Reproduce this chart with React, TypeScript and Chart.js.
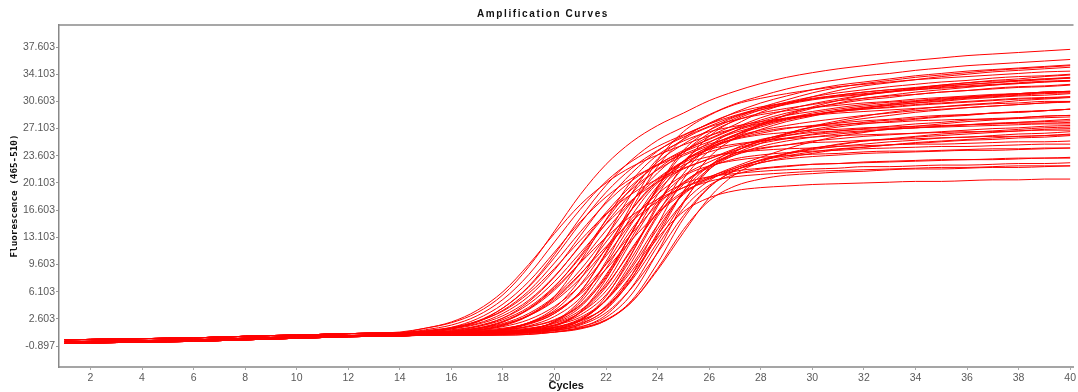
import React, { useEffect, useRef } from "react";
import { Chart, registerables } from "chart.js";

Chart.register(...registerables);

const TITLE = "Amplification Curves";
const X_TITLE = "Cycles";
const Y_TITLE = "Fluorescence (465-510)";

const CYCLES = [1, 2, 3, 4, 5, 6, 7, 8, 9, 10, 11, 12, 13, 14, 15, 16, 17, 18, 19, 20, 21, 22, 23, 24, 25, 26, 27, 28, 29, 30, 31, 32, 33, 34, 35, 36, 37, 38, 39, 40];
const X_TICKS = [2, 4, 6, 8, 10, 12, 14, 16, 18, 20, 22, 24, 26, 28, 30, 32, 34, 36, 38, 40];
const Y_TICKS = [-0.897, 2.603, 6.103, 9.603, 13.103, 16.603, 20.103, 23.603, 27.103, 30.603, 34.103, 37.603];

const W01 = [-0.1,-0.05,0,0.05,0.1,0.15,0.25,0.35,0.45,0.5,0.6,0.7,0.75,0.9,1.4,2.1,3.4,5.7,9.3,13.9,18.6,22.5,25.4,27.5,29.1,30.7,31.9,32.9,33.7,34.3,34.8,35.2,35.6,35.9,36.2,36.5,36.7,36.9,37.1,37.3];
const W02 = [-0.35,-0.3,-0.25,-0.2,-0.15,-0.1,0,0.1,0.2,0.3,0.4,0.45,0.5,0.7,1.2,1.8,3.0,5.1,8.3,12.5,16.7,20.3,22.9,24.8,26.3,27.7,28.8,29.7,30.4,31.0,31.4,31.8,32.1,32.4,32.7,33.0,33.2,33.3,33.5,33.7];
const W03 = [-0.55,-0.5,-0.45,-0.4,-0.35,-0.3,-0.2,-0.1,0,0.1,0.2,0.3,0.35,0.4,0.8,1.3,2.2,4.0,6.8,10.9,15.6,19.8,23.1,25.6,27.3,28.9,30.3,31.3,32.2,32.9,33.4,33.9,34.2,34.6,34.9,35.2,35.4,35.6,35.8,36.0];
const W04 = [-0.35,-0.3,-0.25,-0.2,-0.15,-0.1,0,0.1,0.2,0.3,0.4,0.45,0.5,0.6,1.0,1.4,2.2,3.7,6.2,9.8,13.8,17.5,20.4,22.5,24.1,25.4,26.6,27.5,28.3,28.9,29.4,29.7,30.1,30.4,30.6,30.9,31.1,31.3,31.4,31.6];
const W05 = [-0.1,-0.05,0,0.05,0.1,0.15,0.25,0.35,0.45,0.5,0.6,0.7,0.75,0.8,1.0,1.4,2.0,3.3,5.5,8.9,13.3,17.7,21.4,24.2,26.2,27.7,29.2,30.4,31.3,32.1,32.7,33.1,33.5,33.9,34.2,34.5,34.7,34.9,35.1,35.3];
const W06 = [-0.55,-0.5,-0.45,-0.4,-0.35,-0.3,-0.2,-0.1,0,0.1,0.2,0.3,0.35,0.4,0.6,1.0,1.6,2.7,4.8,8.0,12.1,16.3,19.8,22.4,24.3,25.7,27.1,28.2,29.1,29.8,30.3,30.8,31.1,31.5,31.8,32.0,32.3,32.5,32.6,32.8];
const W07 = [-0.35,-0.3,-0.25,-0.2,-0.15,-0.1,0,0.1,0.2,0.3,0.4,0.45,0.5,0.6,0.8,1.1,1.7,2.7,4.5,7.4,11.1,14.8,17.9,20.2,21.9,23.2,24.5,25.4,26.2,26.8,27.3,27.7,28.0,28.3,28.6,28.8,29.1,29.2,29.4,29.6];
const W08 = [-0.1,-0.05,0,0.05,0.1,0.15,0.25,0.35,0.45,0.5,0.6,0.7,0.75,0.8,0.9,1.2,1.6,2.5,4.1,6.8,10.5,14.9,18.8,21.9,24.1,25.8,27.2,28.5,29.5,30.3,30.9,31.4,31.8,32.2,32.5,32.8,33.0,33.3,33.5,33.6];
const W09 = [-0.35,-0.3,-0.25,-0.2,-0.15,-0.1,0,0.1,0.2,0.3,0.4,0.45,0.5,0.55,0.7,1.0,1.4,2.2,3.8,6.3,9.9,14.0,17.8,20.7,22.9,24.5,25.8,27.0,28.0,28.7,29.4,29.8,30.2,30.6,30.9,31.1,31.4,31.6,31.8,31.9];
const W10 = [-0.55,-0.5,-0.45,-0.4,-0.35,-0.3,-0.2,-0.1,0,0.1,0.2,0.3,0.35,0.4,0.5,0.7,1.1,1.8,3.1,5.3,8.4,11.9,15.2,17.7,19.5,20.9,22.0,23.1,23.9,24.5,25.1,25.5,25.8,26.1,26.4,26.6,26.8,27.0,27.2,27.3];
const W11 = [-0.35,-0.3,-0.25,-0.2,-0.15,-0.1,0,0.1,0.2,0.3,0.4,0.45,0.5,0.55,0.7,0.8,1.2,1.8,3.0,5.1,8.3,12.5,16.7,20.3,22.9,24.8,26.3,27.7,28.8,29.7,30.4,31.0,31.4,31.8,32.1,32.4,32.7,33.0,33.2,33.3];
const W12 = [-0.1,-0.05,0,0.05,0.1,0.15,0.25,0.35,0.45,0.5,0.6,0.7,0.75,0.8,0.9,1.0,1.3,1.9,3.0,4.9,7.8,11.6,15.5,18.7,21.1,22.8,24.2,25.5,26.5,27.3,27.9,28.4,28.8,29.2,29.5,29.8,30.0,30.2,30.4,30.6];
const W13 = [-0.35,-0.3,-0.25,-0.2,-0.15,-0.1,0,0.1,0.2,0.3,0.4,0.45,0.5,0.8,1.4,2.2,3.7,6.1,9.6,13.6,17.3,20.1,22.2,23.7,25.0,26.2,27.1,27.8,28.5,28.9,29.3,29.6,29.9,30.2,30.4,30.6,30.8,31.0,31.1,31.2];
const W14 = [-0.55,-0.5,-0.45,-0.4,-0.35,-0.3,-0.2,-0.1,0,0.1,0.2,0.3,0.35,0.4,0.5,0.5,0.8,1.2,2.0,3.5,6.0,9.6,13.6,17.3,20.2,22.3,23.9,25.2,26.4,27.4,28.1,28.7,29.2,29.6,29.9,30.2,30.4,30.7,30.9,31.1];
const W15 = [-0.35,-0.3,-0.25,-0.2,-0.15,-0.1,0,0.1,0.2,0.3,0.4,0.45,0.5,0.55,0.7,0.7,0.9,1.3,2.1,3.5,5.8,9.0,12.8,16.2,18.8,20.8,22.2,23.4,24.5,25.4,26.1,26.6,27.1,27.4,27.7,28.0,28.2,28.5,28.7,28.8];
const W16 = [-0.1,-0.05,0,0.05,0.1,0.15,0.25,0.35,0.45,0.5,0.6,0.7,0.75,0.8,1.1,1.5,2.3,3.6,5.9,9.1,12.7,16.1,18.7,20.6,22.0,23.2,24.3,25.2,25.8,26.4,26.8,27.1,27.4,27.7,27.9,28.2,28.4,28.5,28.7,28.8];
const W17 = [-0.55,-0.5,-0.45,-0.4,-0.35,-0.3,-0.2,-0.1,0,0.1,0.2,0.3,0.35,0.4,0.6,0.9,1.4,2.3,3.9,6.5,9.8,13.1,15.9,18.0,19.5,20.7,21.8,22.7,23.4,23.9,24.4,24.7,25.0,25.3,25.5,25.7,25.9,26.1,26.2,26.4];
const W18 = [-0.1,-0.05,0,0.05,0.1,0.15,0.25,0.35,0.45,0.5,0.6,0.7,0.75,0.8,0.9,0.9,1.1,1.4,2.0,3.3,6.1,11.0,16.8,22.2,25.8,27.8,29.1,29.9,30.4,30.9,31.3,31.6,31.9,32.1,32.4,32.6,32.8,32.9,33.1,33.2];
const W19 = [-0.35,-0.3,-0.25,-0.2,-0.15,-0.1,0,0.1,0.2,0.3,0.4,0.45,0.5,0.55,0.7,0.7,0.9,1.1,1.7,2.9,5.3,9.7,14.9,19.7,22.9,24.7,25.8,26.5,27.1,27.5,27.8,28.1,28.3,28.6,28.8,28.9,29.1,29.3,29.4,29.6];
const W20 = [-0.55,-0.5,-0.45,-0.4,-0.35,-0.3,-0.2,-0.1,0,0.1,0.2,0.3,0.35,0.4,0.5,0.5,0.6,0.8,1.2,2.2,4.1,8.1,13.7,19.6,24.3,26.9,28.6,29.5,30.2,30.8,31.2,31.5,31.8,32.1,32.3,32.5,32.7,32.9,33.1,33.3];
const W21 = [-0.1,-0.05,0,0.05,0.1,0.15,0.25,0.35,0.45,0.5,0.6,0.7,0.75,0.8,0.9,0.9,1.0,1.2,1.6,2.4,4.3,7.9,13.1,18.6,22.9,25.3,26.8,27.7,28.4,28.9,29.3,29.6,29.8,30.1,30.3,30.5,30.7,30.9,31.0,31.2];
const W22 = [-0.35,-0.3,-0.25,-0.2,-0.15,-0.1,0,0.1,0.2,0.3,0.4,0.45,0.5,0.55,0.7,0.7,0.8,0.9,1.3,2.1,3.7,6.9,11.5,16.4,20.1,22.3,23.7,24.5,25.0,25.5,25.8,26.1,26.3,26.5,26.7,26.9,27.1,27.2,27.4,27.5];
const W23 = [-0.35,-0.3,-0.25,-0.2,-0.15,-0.1,0,0.1,0.2,0.3,0.4,0.45,0.5,0.55,0.7,0.7,0.7,0.9,1.1,1.8,3.1,5.7,10.5,16.1,21.3,24.8,26.8,28.0,28.8,29.3,29.8,30.2,30.5,30.7,31.0,31.2,31.4,31.6,31.8,31.9];
const W24 = [-0.55,-0.5,-0.45,-0.4,-0.35,-0.3,-0.2,-0.1,0,0.1,0.2,0.3,0.35,0.4,0.5,0.5,0.5,0.6,0.9,1.5,2.6,5.0,9.2,14.2,18.8,21.9,23.7,24.8,25.5,26.0,26.4,26.7,27.0,27.2,27.4,27.6,27.8,27.9,28.1,28.3];
const W25 = [-0.1,-0.05,0,0.05,0.1,0.15,0.25,0.35,0.45,0.5,0.6,0.7,0.75,0.8,0.9,0.9,0.9,1.0,1.3,1.8,2.8,5.0,8.8,13.4,17.6,20.4,22.0,23.0,23.6,24.1,24.5,24.7,25.0,25.2,25.4,25.6,25.7,25.9,26.0,26.2];
const W26 = [-0.35,-0.3,-0.25,-0.2,-0.15,-0.1,0,0.1,0.2,0.3,0.4,0.45,0.5,0.55,0.7,0.7,0.8,0.8,1.1,1.7,3.5,7.2,12.7,17.7,20.9,22.3,23.0,23.4,23.6,23.8,23.9,24.1,24.2,24.2,24.3,24.4,24.5,24.5,24.6,24.6];
const W27 = [-0.55,-0.5,-0.45,-0.4,-0.35,-0.3,-0.2,-0.1,0,0.1,0.2,0.3,0.35,0.4,0.5,0.5,0.6,0.7,0.9,1.6,3.5,7.7,13.8,19.3,22.8,24.4,25.1,25.5,25.8,26.0,26.2,26.3,26.4,26.5,26.6,26.7,26.7,26.8,26.9,26.9];
const W28 = [-0.1,-0.05,0,0.05,0.1,0.15,0.25,0.35,0.45,0.5,0.6,0.7,0.75,0.8,0.9,0.9,0.9,1.0,1.1,1.5,2.5,5.0,9.5,14.7,18.6,20.6,21.6,22.0,22.3,22.5,22.6,22.7,22.8,22.9,23.0,23.1,23.1,23.2,23.3,23.3];
const W29 = [-0.35,-0.3,-0.25,-0.2,-0.15,-0.1,0,0.1,0.2,0.3,0.4,0.45,0.5,0.55,0.7,0.7,0.7,0.8,1.0,1.3,2.4,5.1,10.0,15.8,19.9,22.1,23.2,23.7,24.0,24.2,24.3,24.5,24.6,24.7,24.8,24.8,24.9,25.0,25.1,25.1];
const W30 = [-0.55,-0.5,-0.45,-0.4,-0.35,-0.3,-0.2,-0.1,0,0.1,0.2,0.3,0.35,0.4,0.5,0.5,0.5,0.5,0.6,0.9,1.5,3.1,6.7,12.0,16.8,19.8,21.2,21.9,22.2,22.5,22.6,22.8,22.9,23.0,23.1,23.1,23.2,23.3,23.3,23.4];
const W31 = [-0.1,-0.05,0,0.05,0.1,0.15,0.25,0.35,0.45,0.5,0.6,0.7,0.75,0.8,0.9,0.9,0.9,1.0,1.1,1.3,2.0,3.8,7.8,13.7,19.0,22.3,23.9,24.6,25.0,25.3,25.4,25.6,25.7,25.8,25.9,26.0,26.1,26.1,26.2,26.3];
const W32 = [-0.35,-0.3,-0.25,-0.2,-0.15,-0.1,0,0.1,0.2,0.3,0.4,0.45,0.5,0.55,0.7,0.7,0.7,0.8,0.9,1.2,2.1,4.3,8.3,13.0,16.4,18.2,19.1,19.5,19.7,19.9,20.0,20.1,20.2,20.3,20.3,20.4,20.5,20.5,20.6,20.6];
const W33 = [-0.35,-0.3,-0.25,-0.2,-0.15,-0.1,0,0.1,0.2,0.3,0.4,0.45,0.5,0.55,0.7,0.7,0.7,0.7,0.8,0.9,1.3,2.4,5.0,9.8,15.5,19.5,21.7,22.7,23.2,23.5,23.7,23.9,24.0,24.1,24.2,24.3,24.3,24.4,24.5,24.6];
const W34 = [-0.1,-0.05,0,0.05,0.1,0.15,0.25,0.35,0.45,0.5,0.6,0.7,0.75,0.8,0.9,0.9,0.9,0.9,1.0,1.2,1.6,2.8,5.8,11.2,17.5,22.1,24.5,25.7,26.2,26.6,26.8,27.0,27.1,27.2,27.3,27.4,27.5,27.6,27.7,27.7];
const W35 = [-0.55,-0.5,-0.45,-0.4,-0.35,-0.3,-0.2,-0.1,0,0.1,0.2,0.3,0.35,0.4,0.5,0.5,0.6,0.8,1.1,2.3,5.0,10.0,15.9,20.1,22.4,23.5,24.0,24.3,24.5,24.6,24.8,24.9,25.0,25.1,25.1,25.2,25.3,25.4,25.4,25.5];
const W36 = [-0.35,-0.3,-0.25,-0.2,-0.15,-0.1,0,0.1,0.2,0.3,0.4,0.45,0.5,0.55,0.7,0.7,0.8,0.9,1.3,2.2,4.7,9.1,14.2,18.0,20.0,20.9,21.3,21.6,21.8,21.9,22.0,22.2,22.2,22.3,22.4,22.4,22.5,22.6,22.6,22.7];
const W37 = [-0.1,-0.05,0,0.05,0.1,0.15,0.25,0.35,0.45,0.5,0.6,0.7,0.75,0.8,0.9,0.9,0.9,1.0,1.2,1.5,2.4,4.1,7.6,12.5,17.7,21.8,24.1,25.6,26.4,27.0,27.5,27.9,28.2,28.4,28.7,28.9,29.1,29.2,29.4,29.6];
const W38 = [-0.55,-0.5,-0.45,-0.4,-0.35,-0.3,-0.2,-0.1,0,0.1,0.2,0.3,0.35,0.4,0.5,0.5,0.5,0.6,0.7,1.1,1.8,3.4,6.6,11.1,15.9,19.6,21.7,23.0,23.8,24.4,24.8,25.1,25.4,25.6,25.9,26.0,26.2,26.4,26.5,26.7];
const W39 = [-0.1,-0.05,0,0.05,0.1,0.15,0.25,0.35,0.45,0.5,0.6,0.7,0.75,0.8,0.9,0.9,0.9,1.0,1.2,1.8,3.4,6.7,11.7,16.2,19.0,20.3,20.9,21.2,21.4,21.6,21.7,21.8,21.9,22.0,22.1,22.1,22.2,22.3,22.3,22.3];
const W40 = [-0.35,-0.3,-0.25,-0.2,-0.15,-0.1,0,0.1,0.2,0.3,0.4,0.45,0.5,0.55,0.7,0.8,1.0,1.3,2.1,3.7,7.0,11.7,16.7,20.5,22.7,24.1,24.9,25.5,25.9,26.3,26.6,26.8,27.0,27.2,27.4,27.6,27.7,27.9,28.0,28.1];
const W41 = [-0.35,-0.3,-0.25,-0.2,-0.15,-0.1,0,0.1,0.2,0.3,0.4,0.45,0.5,0.6,1.0,1.4,2.3,4.0,6.7,10.5,14.9,18.9,22.0,24.3,26.0,27.4,28.7,29.7,30.5,31.2,31.7,32.1,32.5,32.8,33.1,33.3,33.6,33.8,33.9,34.1];
const W42 = [-0.1,-0.05,0,0.05,0.1,0.15,0.25,0.35,0.45,0.5,0.6,0.7,0.75,0.8,1.0,1.3,1.9,3.0,5.0,8.1,12.0,16.0,19.3,21.8,23.6,24.9,26.3,27.3,28.2,28.8,29.4,29.8,30.1,30.4,30.7,31.0,31.2,31.4,31.6,31.7];
const W43 = [-0.55,-0.5,-0.45,-0.4,-0.35,-0.3,-0.2,-0.1,0,0.1,0.2,0.3,0.35,0.4,0.5,0.8,1.3,2.2,3.9,6.7,10.7,15.3,19.5,22.8,25.1,26.9,28.4,29.8,30.8,31.7,32.4,32.9,33.3,33.7,34.0,34.3,34.6,34.8,35.0,35.2];
const W44 = [-0.1,-0.05,0,0.05,0.1,0.15,0.25,0.35,0.45,0.5,0.6,0.7,0.75,0.8,0.9,1.0,1.4,2.0,3.3,5.5,8.9,13.2,17.7,21.4,24.1,26.1,27.6,29.2,30.3,31.2,32.0,32.6,33.0,33.4,33.8,34.1,34.4,34.6,34.8,35.0];
const W45 = [-0.55,-0.5,-0.45,-0.4,-0.35,-0.3,-0.2,-0.1,0,0.1,0.2,0.3,0.35,0.4,0.5,0.6,0.8,1.2,2.1,4.0,7.7,13.1,18.8,23.2,25.7,27.3,28.2,28.9,29.4,29.8,30.1,30.4,30.6,30.9,31.1,31.3,31.5,31.6,31.8,31.9];
const W46 = [-0.35,-0.3,-0.25,-0.2,-0.15,-0.1,0,0.1,0.2,0.3,0.4,0.45,0.5,0.55,0.7,0.7,0.9,1.2,1.9,3.3,6.1,11.2,17.4,23.0,26.7,28.8,30.2,31.0,31.6,32.1,32.5,32.8,33.1,33.4,33.6,33.8,34.0,34.2,34.4,34.5];
const W47 = [-0.1,-0.05,0,0.05,0.1,0.15,0.25,0.35,0.45,0.5,0.6,0.7,0.75,0.8,0.9,0.9,1.0,1.2,1.6,2.5,4.4,8.3,13.7,19.5,23.9,26.5,28.1,29.1,29.7,30.2,30.7,31.0,31.3,31.5,31.8,32.0,32.2,32.4,32.5,32.7];
const W48 = [-0.1,-0.05,0,0.05,0.1,0.15,0.25,0.35,0.45,0.5,0.6,0.7,0.75,0.8,0.9,0.9,0.9,1.1,1.4,2.0,3.4,6.2,11.1,17.1,22.5,26.1,28.2,29.5,30.3,30.9,31.4,31.8,32.1,32.3,32.6,32.8,33.0,33.2,33.4,33.6];
const W49 = [-0.35,-0.3,-0.25,-0.2,-0.15,-0.1,0,0.1,0.2,0.3,0.4,0.45,0.5,0.55,0.7,0.7,0.7,0.8,1.0,1.4,2.3,4.2,7.9,13.3,19.0,23.4,25.9,27.5,28.4,29.1,29.6,30.0,30.3,30.6,30.8,31.1,31.3,31.5,31.7,31.8];
const W50 = [-0.35,-0.3,-0.25,-0.2,-0.15,-0.1,0,0.1,0.2,0.3,0.4,0.45,0.5,0.55,0.7,0.7,0.7,0.8,0.9,1.1,1.9,3.9,8.3,14.7,20.6,24.2,25.9,26.7,27.2,27.4,27.6,27.8,27.9,28.1,28.2,28.3,28.3,28.4,28.5,28.6];
const W51 = [-0.55,-0.5,-0.45,-0.4,-0.35,-0.3,-0.2,-0.1,0,0.1,0.2,0.3,0.35,0.4,0.5,0.5,0.5,0.6,0.8,1.2,2.4,5.5,11.0,17.4,22.1,24.6,25.7,26.3,26.6,26.9,27.0,27.2,27.3,27.4,27.5,27.6,27.7,27.8,27.8,27.9];
const W52 = [-0.1,-0.05,0,0.05,0.1,0.15,0.25,0.35,0.45,0.5,0.6,0.7,0.75,0.8,0.9,0.9,1.2,1.6,2.5,4.2,6.9,10.7,15.1,19.1,22.2,24.5,26.2,27.6,28.9,29.9,30.7,31.4,31.9,32.3,32.7,33.0,33.3,33.5,33.8,34.0];
const W53 = [-0.35,-0.3,-0.25,-0.2,-0.15,-0.1,0,0.1,0.2,0.3,0.4,0.45,0.5,0.55,0.7,0.9,1.1,1.7,3.0,5.5,10.0,15.4,20.4,23.7,25.5,26.7,27.4,28.0,28.4,28.8,29.1,29.3,29.5,29.7,29.9,30.1,30.3,30.4,30.6,30.6];
const W54 = [-0.55,-0.5,-0.45,-0.4,-0.35,-0.3,-0.2,-0.1,0,0.1,0.2,0.3,0.35,0.5,0.9,1.5,2.6,4.5,7.4,11.2,15.1,18.3,20.7,22.4,23.8,25.1,26.1,26.9,27.5,28.0,28.4,28.8,29.1,29.4,29.6,29.8,30.0,30.2,30.4,30.5];
const W55 = [-0.55,-0.5,-0.45,-0.4,-0.35,-0.3,-0.2,-0.1,0,0.1,0.2,0.3,0.35,0.4,0.5,0.5,0.5,0.5,0.6,0.9,1.4,2.5,4.8,8.9,13.7,18.2,21.2,22.8,23.9,24.6,25.0,25.5,25.7,26.0,26.2,26.4,26.6,26.8,27.0,27.1];
const W56 = [-0.1,-0.05,0,0.05,0.1,0.15,0.25,0.35,0.45,0.5,0.6,0.7,0.75,0.8,0.9,0.9,0.9,0.9,1.0,1.1,1.4,2.4,4.8,9.1,14.1,17.8,19.7,20.6,21.1,21.3,21.5,21.6,21.8,21.9,21.9,22.0,22.1,22.1,22.2,22.3];

const WELLS = [W01, W02, W03, W04, W05, W06, W07, W08, W09, W10, W11, W12, W13, W14, W15, W16, W17, W18, W19, W20, W21, W22, W23, W24, W25, W26, W27, W28, W29, W30, W31, W32, W33, W34, W35, W36, W37, W38, W39, W40, W41, W42, W43, W44, W45, W46, W47, W48, W49, W50, W51, W52, W53, W54, W55, W56];

export default function App() {
  const ref = useRef<HTMLCanvasElement>(null);

  useEffect(() => {
    document.body.style.margin = "0";
    const canvas = ref.current;
    if (!canvas) return;

    const decor = {
      id: "decor",
      afterDraw(chart: any) {
        const { ctx, chartArea } = chart;
        ctx.save();
        ctx.strokeStyle = "#8a8a8a";
        ctx.lineWidth = 1.5;
        ctx.beginPath();
        ctx.moveTo(chartArea.left, chartArea.top);
        ctx.lineTo(chartArea.right, chartArea.top);
        ctx.stroke();

        ctx.fillStyle = "#111";
        ctx.textAlign = "center";
        ctx.textBaseline = "middle";
        ctx.font = "bold 10px 'Liberation Sans', Arial, sans-serif";
        ctx.letterSpacing = "1.6px";
        ctx.fillText(TITLE, 543, 14);
        ctx.letterSpacing = "0px";

        ctx.font = "bold 11px 'Liberation Sans', Arial, sans-serif";
        ctx.fillText(X_TITLE, (chartArea.left + chartArea.right) / 2, 386);

        ctx.translate(15, (chartArea.top + chartArea.bottom) / 2);
        ctx.rotate(-Math.PI / 2);
        ctx.font = "bold 9.3px 'DejaVu Sans Mono', monospace";
        ctx.fillText(Y_TITLE, 0, 0);
        ctx.restore();
      },
    };

    const chart = new Chart(canvas, {
      type: "line",
      data: {
        datasets: WELLS.map((w) => ({
          data: w.map((y, i) => ({ x: CYCLES[i], y })),
          borderColor: "#ff0000",
          borderWidth: 1,
          pointRadius: 0,
          fill: false,
          cubicInterpolationMode: "monotone" as const,
        })),
      },
      options: {
        animation: false,
        responsive: false,
        events: [],
        layout: { autoPadding: false, padding: { top: 25, left: 0, right: 0, bottom: 0 } },
        plugins: { legend: { display: false }, tooltip: { enabled: false }, title: { display: false } },
        scales: {
          x: {
            type: "linear",
            min: 0.78,
            max: 40.13,
            afterBuildTicks: (s: any) => { s.ticks = X_TICKS.map((v) => ({ value: v })); },
            afterFit: (s: any) => { s.height = 25; },
            ticks: { autoSkip: false, maxRotation: 0, color: "#5a5a5a", padding: 2, font: { family: "'Liberation Sans', Arial, sans-serif", size: 10.5 } },
            grid: { display: true, drawOnChartArea: false, drawTicks: true, tickLength: 3, color: "#aaa" },
            border: { display: true, color: "#a5a5a5", width: 2 },
          },
          y: {
            type: "linear",
            min: -3.6,
            max: 40.44,
            afterBuildTicks: (s: any) => { s.ticks = Y_TICKS.map((v) => ({ value: v })); },
            afterFit: (s: any) => { s.width = 59; },
            ticks: {
              color: "#5a5a5a",
              padding: 1,
              font: { family: "'Liberation Sans', Arial, sans-serif", size: 10.5 },
              callback: (v: any) => Number(v).toFixed(3),
            },
            grid: { display: true, drawOnChartArea: false, drawTicks: true, tickLength: 3, color: "#999" },
            border: { display: true, color: "#888", width: 1.5 },
          },
        },
      },
      plugins: [decor],
    });
    return () => chart.destroy();
  }, []);

  return <canvas ref={ref} width={1078} height={392} style={{ display: "block" }} />;
}
